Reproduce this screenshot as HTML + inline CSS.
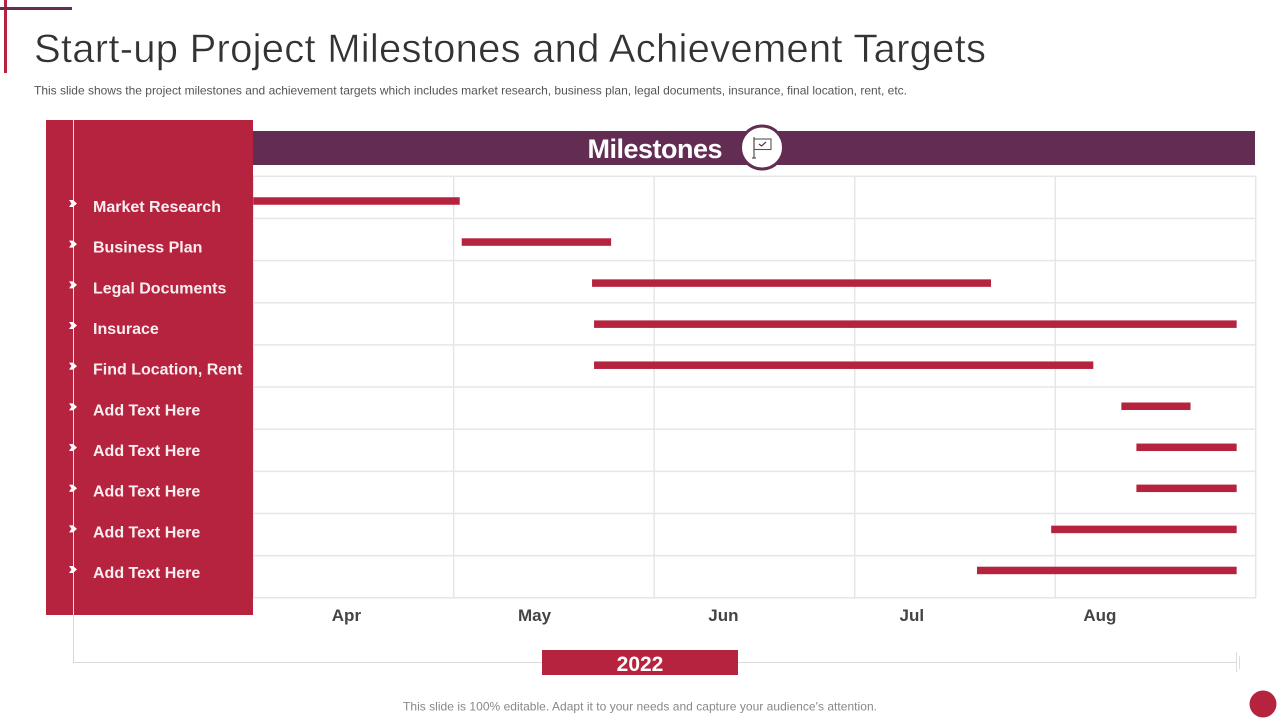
<!DOCTYPE html>
<html lang="en">
<head>
<meta charset="utf-8">
<title>Start-up Project Milestones and Achievement Targets</title>
<style>
html,body{margin:0;padding:0;background:#fff;width:1280px;height:720px;overflow:hidden}
svg{display:block;font-family:"Liberation Sans",sans-serif}
</style>
</head>
<body>
<svg id="slide" xmlns="http://www.w3.org/2000/svg" width="1280" height="720" viewBox="0 0 1280 720">
  <rect x="0" y="0" width="1280" height="720" fill="#ffffff"/>
  <rect x="4" y="0" width="3" height="73" fill="#b5233f"/>
  <rect x="0" y="7" width="72" height="3" fill="#622c53"/>
  <text x="34" y="62" font-size="40" fill="#333333" stroke="#ffffff" stroke-width="0.5" textLength="952" lengthAdjust="spacing">Start-up Project Milestones and Achievement Targets</text>
  <text x="34" y="94.5" font-size="12" fill="#555555" textLength="873" lengthAdjust="spacing">This slide shows the project milestones and achievement targets which includes market research, business plan, legal documents, insurance, final location, rent, etc.</text>

  <g id="grid"></g>

  <rect x="253" y="131" width="1002" height="34" fill="#622c53"/>
  <text x="655" y="158" font-size="27" font-weight="bold" fill="#ffffff" text-anchor="middle" textLength="135" lengthAdjust="spacing">Milestones</text>
  <g>
    <circle cx="762" cy="147.5" r="21.5" fill="#ffffff" stroke="#622c53" stroke-width="3"/>
    <path d="M754 137 V158 M752 158 H756" fill="none" stroke="#555555" stroke-width="1.2"/>
    <rect x="754" y="139" width="17" height="10.5" fill="none" stroke="#555555" stroke-width="1.1"/>
    <path d="M759 144 L761.5 146 L766 142" fill="none" stroke="#622c53" stroke-width="1.2"/>
  </g>

  <rect x="46" y="120" width="207" height="495" fill="#b5233f"/>
  <rect x="73" y="120" width="1" height="495" fill="#f4dfe3"/>
  <rect x="73" y="615" width="1" height="47" fill="#d9d9d9"/>
  <rect x="73" y="662" width="1164" height="1" fill="#d9d9d9"/>
  <rect x="1236" y="652" width="1" height="20" fill="#dddddd"/>
  <rect x="1239" y="656" width="1" height="13" fill="#dddddd"/>

  <g id="labels"></g>
  <g id="bars"></g>
  <g id="months"></g>

  <rect x="542" y="650" width="196" height="25" fill="#b5233f"/>
  <text x="640" y="671" font-size="21" font-weight="bold" fill="#ffffff" text-anchor="middle">2022</text>
  <text x="640" y="710.5" font-size="12" fill="#888888" text-anchor="middle" textLength="474" lengthAdjust="spacing">This slide is 100% editable. Adapt it to your needs and capture your audience's attention.</text>
  <circle cx="1263" cy="704" r="13.5" fill="#b5233f"/>
</svg>
<script>
var categories = ["Market Research","Business Plan","Legal Documents","Insurace","Find Location, Rent","Add Text Here","Add Text Here","Add Text Here","Add Text Here","Add Text Here"];
var startValues = [0,1.04,1.69,1.70,1.70,4.33,4.405,4.405,3.98,3.61];
var endValues = [1.03,1.785,3.68,4.905,4.19,4.675,4.905,4.905,4.905,4.905];
var monthLabels = ["Apr","May","Jun","Jul","Aug"];
var monthValues = [0.465,1.403,2.345,3.285,4.223];
var gridTicks = [0,1,2,3,4,5];

var NS = "http://www.w3.org/2000/svg";
function xAxis(v){ return 253.2 + v * 200.5; }
function rowTop(i){ return 176.3 + i * 42.15; }
function barCenter(i){ return 201 + i * 41.05; }
function labelBase(i){ return 212 + i * 40.67; }
function make(tag, parent, attrs){
  var el = document.createElementNS(NS, tag);
  for (var k in attrs) el.setAttribute(k, attrs[k]);
  parent.appendChild(el);
  return el;
}

var grid = document.getElementById("grid");
categories.concat([""]).forEach(function(c, i){
  var line = make("rect", grid, {x:253, y:rowTop(i)-0.75, width:1003, height:1.5, fill:"#e6e6e6"});
  
  
});
gridTicks.forEach(function(t){
  var line = make("rect", grid, {x:xAxis(t)-0.75, y:176, width:1.5, height:422, fill:"#e6e6e6"});
  
  
});

var labels = document.getElementById("labels");
categories.forEach(function(c, i){
  var y = labelBase(i);
  var arrow = make("path", labels, {d:"M69 "+(y-12)+" L73 "+(y-12)+" L77 "+(y-8.5)+" L73 "+(y-5)+" L69 "+(y-5)+" L71.5 "+(y-8.5)+" Z", fill:"#ffffff"});
  
  
  var t = make("text", labels, {x:93, y:y, "font-size":"16", "font-weight":"bold", fill:"#fbeef0"});
  t.textContent = c;
  
  
});

var bars = document.getElementById("bars");
categories.forEach(function(c, i){
  var x0 = xAxis(startValues[i]);
  var x1 = xAxis(endValues[i]);
  var bar = make("rect", bars, {x:x0, y:barCenter(i)-3.75, width:x1-x0, height:7.5, fill:"#b5233f"});
  
  
});

var months = document.getElementById("months");
monthLabels.forEach(function(m, i){
  var t = make("text", months, {x:xAxis(monthValues[i]), y:621, "font-size":"17", "font-weight":"bold", fill:"#444444", "text-anchor":"middle"});
  t.textContent = m;
  
  
});
</script>
</body>
</html>
